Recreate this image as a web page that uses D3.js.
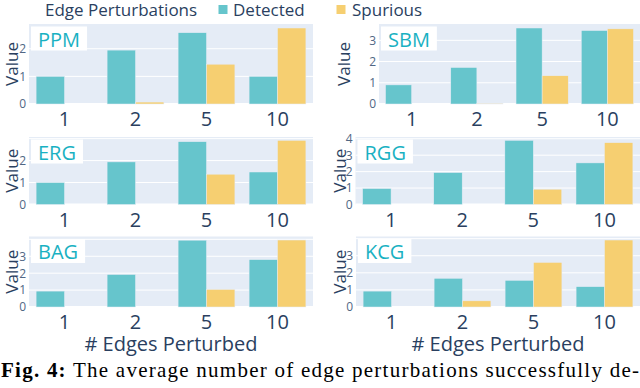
<!DOCTYPE html>
<html><head><meta charset="utf-8">
<script src="https://cdn.jsdelivr.net/npm/d3@7"></script>
<style>html,body{margin:0;padding:0;background:#fff;overflow:hidden}</style>
</head><body>
<svg id="chart" width="640" height="388"></svg>
<script>
// ---- data ----
const categories = ["1", "2", "5", "10"];
const seriesNames = ["Detected", "Spurious"];
const panelNames = ["PPM", "SBM", "ERG", "RGG", "BAG", "KCG"];

const ppmDetected = [1.0, 1.95, 2.58, 1.0];
const ppmSpurious = [0, 0.07, 1.44, 2.75];
const sbmDetected = [0.9, 1.72, 3.58, 3.46];
const sbmSpurious = [0, 0.03, 1.33, 3.54];
const ergDetected = [1.0, 1.94, 2.86, 1.48];
const ergSpurious = [0, 0, 1.38, 2.92];
const rggDetected = [0.97, 1.94, 3.9, 2.53];
const rggSpurious = [0, 0, 0.93, 3.76];
const bagDetected = [0.94, 1.92, 3.95, 2.8];
const bagSpurious = [0, 0, 1.04, 3.96];
const kcgDetected = [0.93, 1.68, 1.56, 1.19];
const kcgSpurious = [0, 0.36, 2.61, 3.92];

const ppmTicks = [0, 1, 2];
const sbmTicks = [0, 1, 2, 3];
const ergTicks = [0, 1, 2];
const rggTicks = [0, 1, 2, 3, 4];
const bagTicks = [0, 1, 2, 3];
const kcgTicks = [0, 1, 2, 3];

const legendTitle = "Edge Perturbations";
const xAxisTitle = "# Edges Perturbed";
const yAxisTitle = "Value";
const captionBold = "Fig. 4:";
const captionRest = " The average number of edge perturbations successfully de-";

// ---- build panels ----
const detectedSets = [ppmDetected, sbmDetected, ergDetected, rggDetected, bagDetected, kcgDetected];
const spuriousSets = [ppmSpurious, sbmSpurious, ergSpurious, rggSpurious, bagSpurious, kcgSpurious];
const tickSets = [ppmTicks, sbmTicks, ergTicks, rggTicks, bagTicks, kcgTicks];

// layout (pixel geometry of each panel's plot area)
const geom = [
  {l: 29,    r: 313, t: 24,    b: 104,   vx: 12},
  {l: 379,   r: 640, t: 24,    b: 104,   vx: 343.5},
  {l: 29,    r: 313, t: 137,   b: 204.5, vx: 12},
  {l: 355.5, r: 640, t: 137,   b: 204.5, vx: 340},
  {l: 29,    r: 313, t: 236.5, b: 307,   vx: 12},
  {l: 356,   r: 640, t: 236.5, b: 307,   vx: 340}
];

const colors = {Detected: "#66C5CC", Spurious: "#F6CF71"};
const textColor = "#2a3f5f";
const font = "'Open Sans', sans-serif";

const svg = d3.select("#chart");

panelNames.forEach((name, i) => {
  const g = geom[i];
  const rows = categories.map((c, k) => ({cat: c, Detected: detectedSets[i][k], Spurious: spuriousSets[i][k]}));
  const maxV = d3.max(rows, d => Math.max(d.Detected, d.Spurious));
  const x = d3.scaleBand().domain(categories).range([g.l, g.r]).paddingInner(0.2).paddingOuter(0.1);
  const xs = d3.scaleBand().domain(seriesNames).range([0, x.bandwidth()]);
  const y = d3.scaleLinear().domain([0, maxV / 0.95]).range([g.b, g.t]);

  const p = svg.append("g");
  p.append("rect").attr("x", g.l).attr("y", g.t).attr("width", g.r - g.l).attr("height", g.b - g.t).attr("fill", "#E5ECF6");

  // gridlines
  const gridVals = d3.range(0, Math.floor(y.domain()[1]) + 1);
  p.selectAll(".grid").data(gridVals).join("line")
    .attr("x1", g.l).attr("x2", g.r)
    .attr("y1", d => y(d)).attr("y2", d => y(d))
    .attr("stroke", "#fff").attr("stroke-width", d => d === 0 ? 2 : 1);

  // bars
  const grp = p.selectAll(".grp").data(rows).join("g")
    .attr("transform", d => `translate(${x(d.cat)},0)`);
  grp.selectAll("rect").data(d => seriesNames.map(s => ({s, v: d[s]}))).join("rect")
    .attr("x", d => xs(d.s)).attr("width", xs.bandwidth())
    .attr("y", d => y(d.v)).attr("height", d => y(0) - y(d.v))
    .attr("fill", d => colors[d.s])
    .attr("stroke", "#E5ECF6").attr("stroke-width", 0.5);

  // x axis
  const xa = p.append("g").attr("transform", `translate(0,${g.b})`)
    .call(d3.axisBottom(x).tickSize(0).tickPadding(8));
  xa.select(".domain").remove();
  xa.selectAll("text").attr("font-family", font).attr("font-size", 20).attr("fill", textColor);

  // y axis
  const ya = p.append("g").attr("transform", `translate(${g.l},0)`)
    .call(d3.axisLeft(y).tickValues(tickSets[i]).tickSize(0).tickPadding(3).tickFormat(d3.format("d")));
  ya.select(".domain").remove();
  ya.selectAll("text").attr("font-family", font).attr("font-size", 12).attr("fill", "#506784");

  // y title
  p.append("text")
    .attr("transform", `translate(${g.vx},${(g.t + g.b) / 2}) rotate(-90)`)
    .attr("dy", "0.36em").attr("text-anchor", "middle")
    .attr("font-family", font).attr("font-size", 17).attr("fill", textColor)
    .text(yAxisTitle);

  // panel label
  const lb = p.append("g").attr("transform", `translate(${g.l + 2},${g.t + 2.5})`);
  const r = lb.append("rect").attr("height", 24).attr("fill", "#fff");
  const tx = lb.append("text").attr("x", 7).attr("y", 20)
    .attr("font-family", font).attr("font-size", 20).attr("fill", "#19b1c2").text(name);
  r.attr("width", tx.node().getComputedTextLength() + 14);

  // x title for bottom row
  if (i >= 4) {
    p.append("text").attr("x", (g.l + g.r) / 2).attr("y", 350.5)
      .attr("text-anchor", "middle").attr("font-family", font).attr("font-size", 20)
      .attr("fill", textColor).text(xAxisTitle);
  }
});

// legend
const lg = svg.append("g").attr("font-family", font).attr("font-size", 17).attr("fill", textColor);
lg.append("text").attr("x", 45).attr("y", 16).text(legendTitle);
const legendItems = [{s: "Detected", sx: 218.5, tx: 233}, {s: "Spurious", sx: 336.5, tx: 352}];
legendItems.forEach(it => {
  lg.append("rect").attr("x", it.sx).attr("y", 5).attr("width", 9).attr("height", 9).attr("fill", colors[it.s]);
  lg.append("text").attr("x", it.tx).attr("y", 16).text(it.s);
});

// caption
const cap = svg.append("text").attr("x", 1).attr("y", 377)
  .attr("font-family", "'Liberation Serif', 'Times New Roman', serif").attr("font-size", 21).attr("fill", "#000")
  .attr("textLength", 638).attr("lengthAdjust", "spacing");
cap.append("tspan").attr("font-weight", "bold").text(captionBold);
cap.append("tspan").text(captionRest);
</script>
</body></html>
